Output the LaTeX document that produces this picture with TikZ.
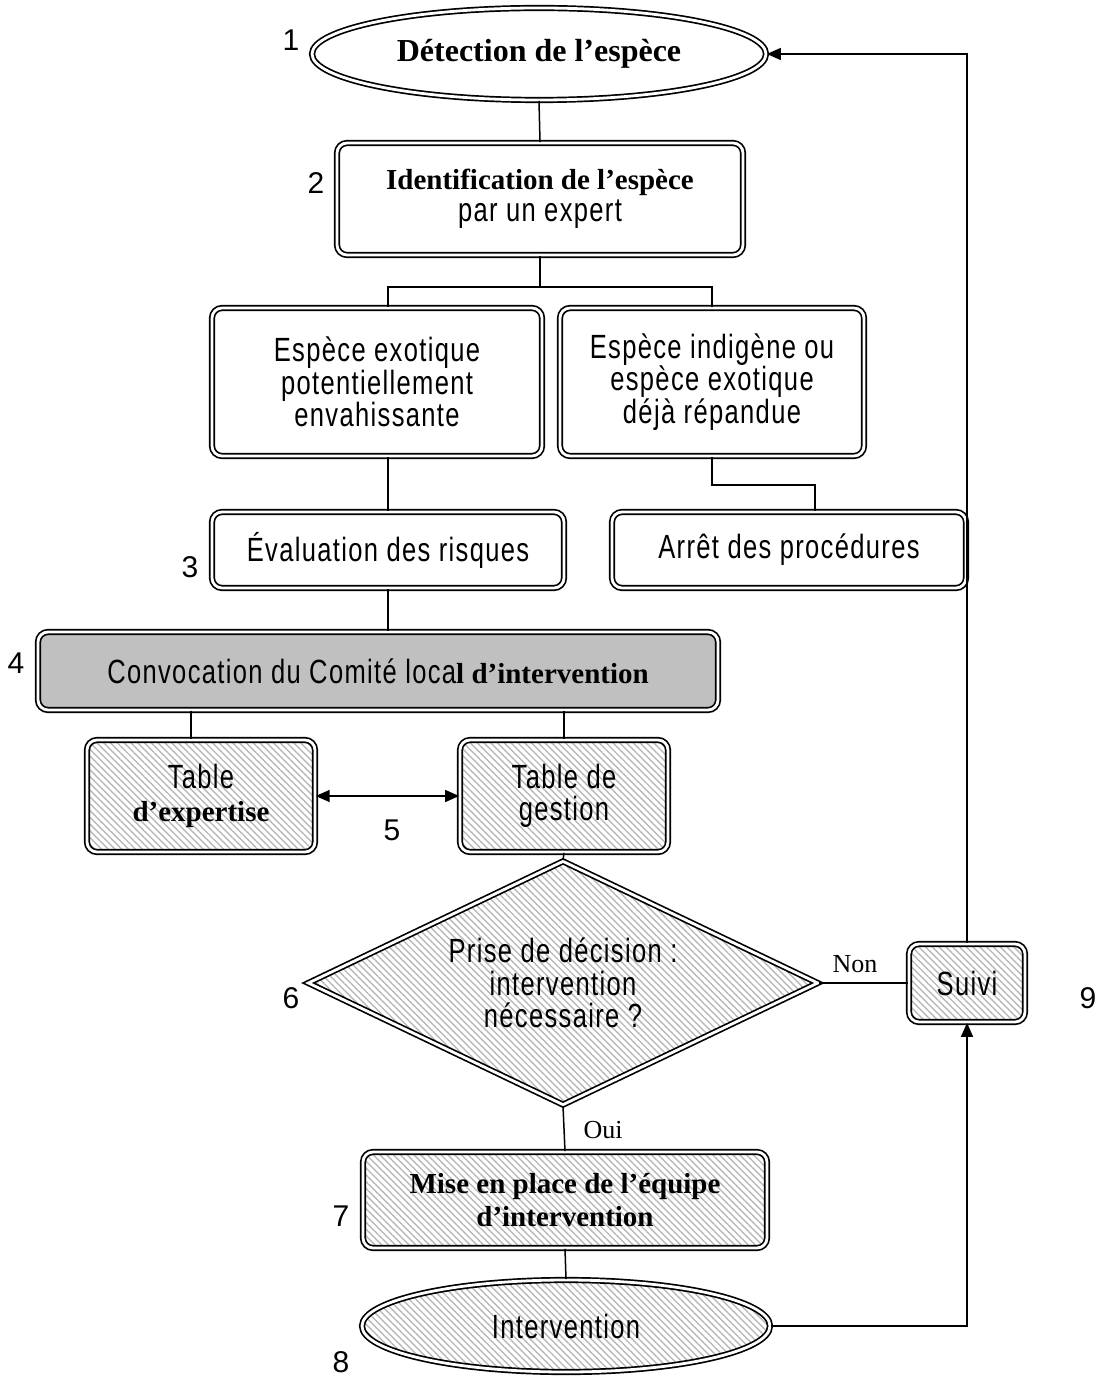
\documentclass[tikz,border=0pt]{standalone}
\usepackage{fontspec}
\setmainfont{Liberation Serif}
\newfontfamily\narrow[FakeStretch=0.76,LetterSpace=4]{Liberation Sans}
\newfontfamily\numfont{Liberation Sans}
\usetikzlibrary{shapes.geometric,arrows.meta,patterns.meta}

\tikzset{every picture/.style={line width=0.75pt}}
\tikzset{
  dbl/.style={draw, double=white, line width=0.85pt, double distance=1.4pt},
  flowbox/.style={dbl, rectangle, rounded corners=5pt, align=center, inner sep=2pt,
    font=\narrow\fontsize{16.8}{16.2}\selectfont},
  flowoval/.style={dbl, ellipse, align=center, inner sep=0pt,
    font=\narrow\fontsize{16.8}{16.2}\selectfont},
  hatched/.style={pattern={Lines[angle=-45,distance=2.4pt,line width=0.7pt]}, pattern color=black!28},
  numlabel/.style={font=\numfont\fontsize{15}{16}\selectfont, inner sep=0.75pt},
  answer/.style={font=\fontsize{13}{15}\selectfont, inner sep=0.75pt},
  tip/.style={-{Triangle[length=7pt,width=6pt]}}
}
\newcommand{\bsf}[1]{{\rmfamily\bfseries\fontsize{14.5}{16}\selectfont #1}}

\begin{document}
\begin{tikzpicture}[x=0.5pt,y=0.5pt,yscale=-1,xscale=1]
\useasboundingbox (0,0) rectangle (1103,1379);

%Shape: Ellipse
\node (detect) [flowoval, minimum width=227pt, minimum height=46pt] at (539,54) {{\rmfamily\bfseries\fontsize{16}{16}\selectfont Détection de l’espèce}};
%Shape: Rectangle
\node (ident) [flowbox, minimum width=203pt, minimum height=56pt] at (540,199) {\bsf{Identification de l’espèce}\\par un expert};
%Shape: Rectangle
\node (exot) [flowbox, minimum width=165pt, minimum height=74pt] at (377,382) {Espèce exotique\\potentiellement\\envahissante};
%Shape: Rectangle
\node (indig) [flowbox, minimum width=152pt, minimum height=74pt] at (712,382) {Espèce indigène ou\\espèce exotique\\déjà répandue};
%Shape: Rectangle
\node (eval) [flowbox, minimum width=176pt, minimum height=38pt] at (388,550) {Évaluation des risques};
%Shape: Rectangle
\node (arret) [flowbox, minimum width=177pt, minimum height=38pt] at (789,550) {Arrêt des procédures};
%Shape: Rectangle
\node (convoc) [flowbox, fill={rgb,255:red,192;green,192;blue,192}, minimum width=340pt, minimum height=39pt] at (378,671) {Convocation du Comité loca\bsf{l d’intervention}};
%Shape: Rectangle
\node (expert) [flowbox, hatched, minimum width=114pt, minimum height=56pt] at (201,796) {Table\\\bsf{d’expertise}};
%Shape: Rectangle
\node (gestion) [flowbox, hatched, minimum width=104pt, minimum height=56pt] at (564,796) {Table de\\gestion};
%Shape: Diamond
\node (decision) [dbl, hatched, diamond, shape aspect=2, inner sep=0pt, align=center, minimum width=255pt, minimum height=122pt, font=\narrow\fontsize{16.8}{16.2}\selectfont] at (563,983) {Prise de décision :\\intervention\\nécessaire ?};
%Shape: Rectangle
\node (suivi) [flowbox, hatched, minimum width=58pt, minimum height=39pt] at (967,983) {Suivi};
%Shape: Rectangle
\node (equipe) [flowbox, hatched, minimum width=202pt, minimum height=48pt] at (565,1200) {\bsf{Mise en place de l’équipe}\\\bsf{d’intervention}};
%Shape: Ellipse
\node (interv) [flowoval, hatched, minimum width=204pt, minimum height=46pt] at (566,1326) {Intervention};

%Straight Lines
\coordinate (split) at (540,287);
\draw (detect.south) -- (ident.north);
\draw (ident.south) -- (split);
\draw (exot.north -| eval.north) |- (split) -| (indig.north);
\draw (exot.south -| eval.north) -- (eval.north);
\draw (indig.south) -- ++(0,28) -| ([xshift=13pt]arret.north);
\draw (eval.south) -- (eval.south |- convoc.north);
\draw ([xshift=-5pt]expert.north |- convoc.south) -- ([xshift=-5pt]expert.north);
\draw (gestion.north |- convoc.south) -- (gestion.north);
\draw [{Triangle[length=7pt,width=6pt]}-{Triangle[length=7pt,width=6pt]}] (expert.east) -- (gestion.west);
\draw (gestion.south) -- (decision.north);
\draw (decision.east) -- (suivi.west);
\draw [tip] (suivi.north) |- (detect.east);
\draw (decision.south) -- (equipe.north);
\draw (equipe.south) -- (interv.north);
\draw [tip] (interv.east) -| (suivi.south);

% Text Node
\node (n1) [numlabel] at (291,40) {1};
\node (n2) [numlabel] at (316,183) {2};
\node (n3) [numlabel] at (190,567) {3};
\node (n4) [numlabel] at (16,663) {4};
\node (n5) [numlabel] at (392,830) {5};
\node (n6) [numlabel] at (291,998) {6};
\node (n7) [numlabel] at (341,1216) {7};
\node (n8) [numlabel] at (341,1362) {8};
\node (n9) [numlabel] at (1088,998) {9};
% Text Node
\node (non) [answer] at (855,964) {Non};
\node (oui) [answer] at (603,1130) {Oui};

\end{tikzpicture}
\end{document}
